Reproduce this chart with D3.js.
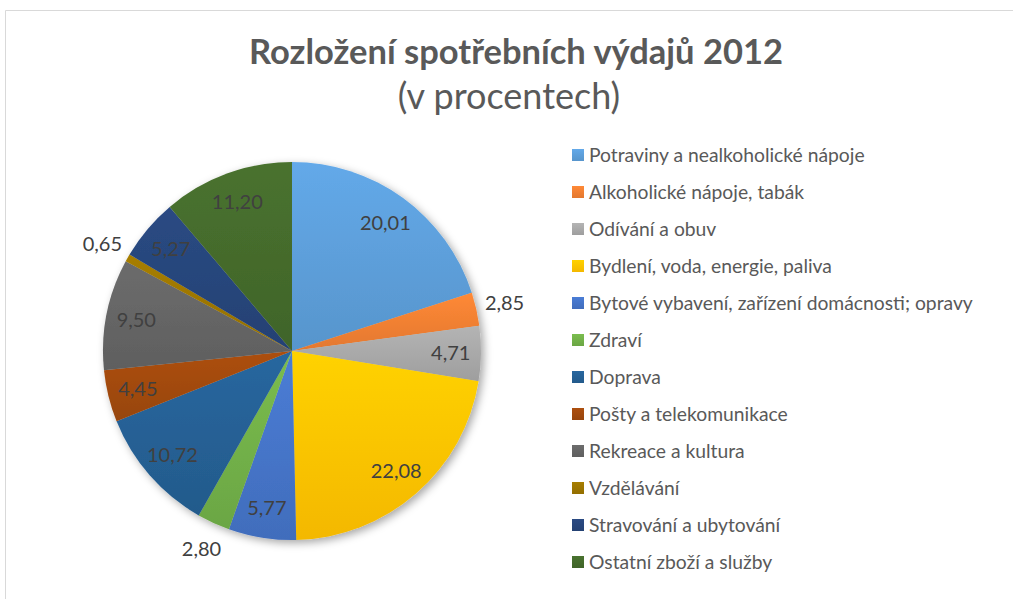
<!DOCTYPE html>
<html>
<head>
<meta charset="utf-8">
<script src="https://cdn.jsdelivr.net/npm/d3@7"></script>
<style>
  body { margin: 0; background: #fff; }
  svg { display: block; }
</style>
</head>
<body>
<div id="chart"></div>
<script>
// Data
const categories = [
    'Potraviny a nealkoholické nápoje',
    'Alkoholické nápoje, tabák',
    'Odívání a obuv',
    'Bydlení, voda, energie, paliva',
    'Bytové vybavení, zařízení domácnosti; opravy',
    'Zdraví',
    'Doprava',
    'Pošty a telekomunikace',
    'Rekreace a kultura',
    'Vzdělávání',
    'Stravování a ubytování',
    'Ostatní zboží a služby'
];
const values = [20.01, 2.85, 4.71, 22.08, 5.77, 2.80, 10.72, 4.45, 9.50, 0.65, 5.27, 11.20];
const palette = ['#5B9BD5', '#ED7D31', '#A5A5A5', '#FFC000', '#4472C4', '#70AD47',
    '#255E91', '#9E480E', '#636363', '#997300', '#264478', '#43682B'];

const titleText = 'Rozložení spotřebních výdajů 2012';
const subtitleText = '(v procentech)';

const width = 1013, height = 599;
const cx = 292, cy = 351, radius = 189;
const fontFamily = 'Lato, "Open Sans", sans-serif';

const svg = d3.select('#chart')
    .append('svg')
    .attr('width', width)
    .attr('height', height);

const defs = svg.append('defs');

// soft shadow under the pie
const shadow = defs.append('filter')
    .attr('id', 'shadow')
    .attr('x', '-20%').attr('y', '-20%')
    .attr('width', '140%').attr('height', '140%');
shadow.append('feDropShadow')
    .attr('dx', 3).attr('dy', 3)
    .attr('stdDeviation', 4)
    .attr('flood-color', '#000')
    .attr('flood-opacity', 0.35);

// one gradient per category, lighter at the top
palette.forEach(function (c, i) {
    const g = defs.append('linearGradient')
        .attr('id', 'grad' + i)
        .attr('x1', 0).attr('y1', 0).attr('x2', 0).attr('y2', 1);
    g.append('stop').attr('offset', '0%').attr('stop-color', d3.color(c).brighter(0.25));
    g.append('stop').attr('offset', '100%').attr('stop-color', d3.color(c).darker(0.12));
});

// chart area frame (only top/left visible in the crop)
svg.append('path')
    .attr('d', `M5.5,${height + 5}V10.5H${width + 5}`)
    .attr('fill', 'none')
    .attr('stroke', '#d9d9d9')
    .attr('stroke-width', 1);

// Title
svg.append('text')
    .attr('x', 516)
    .attr('y', 64)
    .attr('text-anchor', 'middle')
    .attr('font-family', fontFamily)
    .attr('font-weight', 'bold')
    .attr('font-size', 34.5)
    .attr('fill', '#595959')
    .text(titleText);

svg.append('text')
    .attr('x', 509)
    .attr('y', 109)
    .attr('text-anchor', 'middle')
    .attr('font-family', fontFamily)
    .attr('font-size', 36)
    .attr('fill', '#595959')
    .text(subtitleText);

// Pie
const pie = d3.pie().sort(null).value(d => d.value);
const arc = d3.arc().innerRadius(0).outerRadius(radius);
const insideArc = d3.arc().innerRadius(radius * 0.84).outerRadius(radius * 0.84);
const outsideArc = d3.arc().innerRadius(radius + 29).outerRadius(radius + 29);

const data = categories.map((name, i) => ({name: name, value: values[i], i: i}));
const arcs = pie(data);

const pieG = svg.append('g')
    .attr('transform', `translate(${cx},${cy})`);

pieG.append('g')
    .attr('filter', 'url(#shadow)')
    .selectAll('path')
    .data(arcs)
    .join('path')
    .attr('d', arc)
    .attr('fill', d => `url(#grad${d.data.i})`);

const fmt = v => d3.format('.2f')(v).replace('.', ',');

pieG.append('g')
    .selectAll('text')
    .data(arcs)
    .join('text')
    .attr('transform', d => `translate(${(d.data.value < 3 ? outsideArc : insideArc).centroid(d)})`)
    .attr('text-anchor', 'middle')
    .attr('dy', '0.35em')
    .attr('font-family', fontFamily)
    .attr('font-size', 20)
    .attr('fill', '#404040')
    .text(d => fmt(d.data.value));

// Legend
const legend = svg.append('g')
    .attr('transform', 'translate(572,155)');

const item = legend.selectAll('g')
    .data(data)
    .join('g')
    .attr('transform', (d, i) => `translate(0,${i * 37})`);

item.append('rect')
    .attr('x', 0)
    .attr('y', -6)
    .attr('width', 12)
    .attr('height', 12)
    .attr('fill', d => `url(#grad${d.i})`);

item.append('text')
    .attr('x', 17)
    .attr('y', 0)
    .attr('dy', '0.36em')
    .attr('font-family', fontFamily)
    .attr('font-size', 19.3)
    .attr('fill', '#595959')
    .text(d => d.name);
</script>
</body>
</html>
